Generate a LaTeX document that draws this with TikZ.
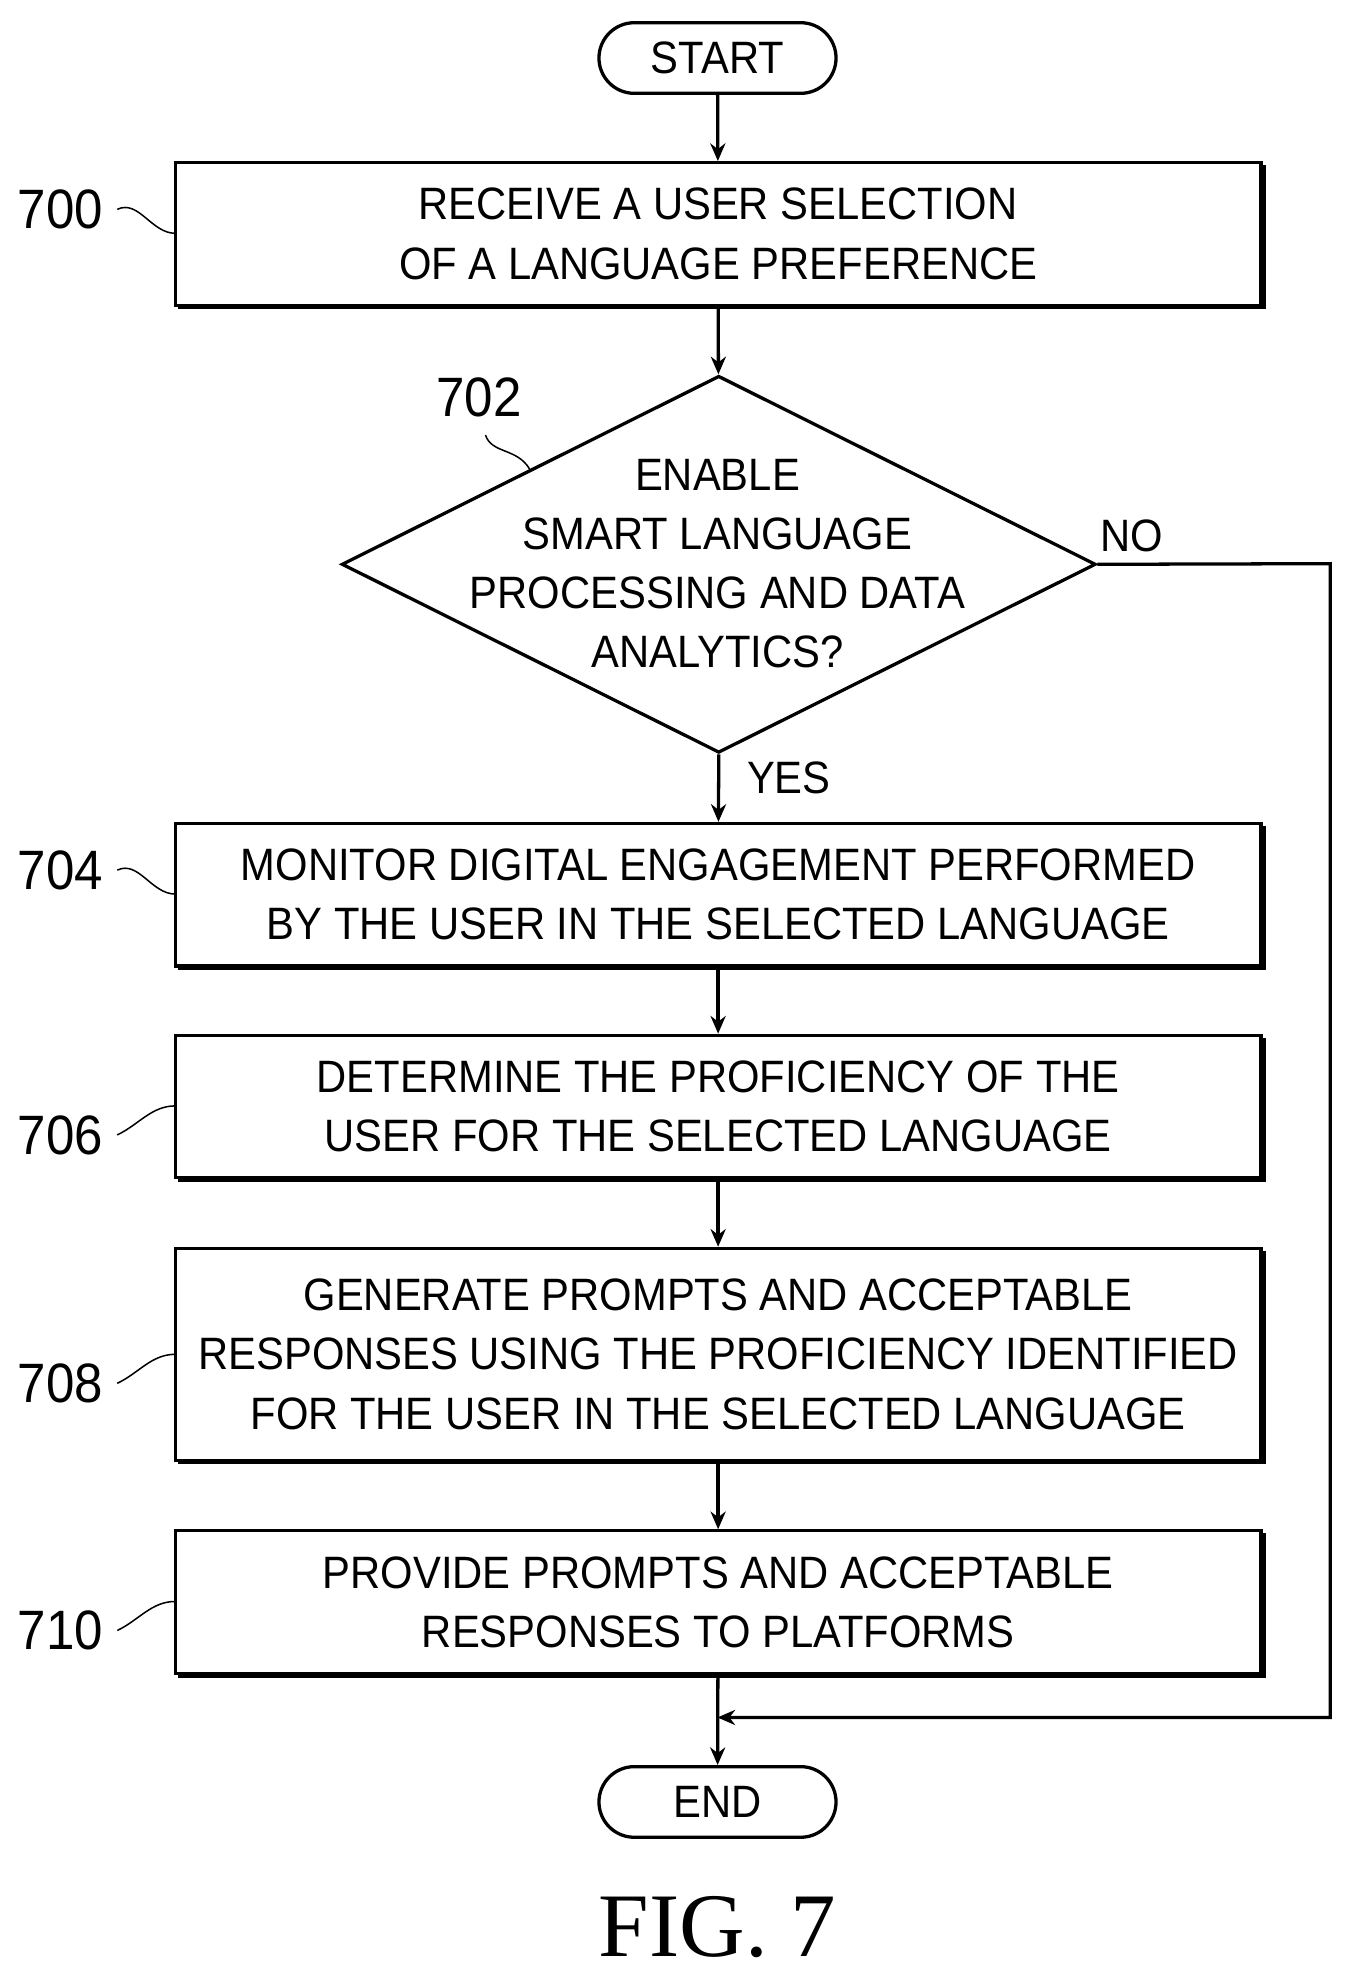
\documentclass[tikz,border=0pt]{standalone}
\usepackage{fontspec}
\setmainfont{Liberation Sans}
\newfontfamily\figfont{Liberation Serif}
\usetikzlibrary{arrows.meta,shapes.geometric,calc}
\begin{document}
\begin{tikzpicture}[x=0.5pt,y=-0.5pt,
  lw/.style={line width=1.3pt},
  txt/.style={font=\fontsize{18}{23.5}\selectfont, align=center, xscale=0.92},
  box/.style={draw, lw, minimum width=430.5pt, inner sep=0pt},
  arr/.style={lw,-{Stealth[length=7pt,width=6pt]}},
  lab/.style={font=\fontsize{22}{24}\selectfont, xscale=0.92},
  sq/.style={line width=0.6pt}]
\useasboundingbox (0,0) rectangle (1075,1571);
% shadows
\foreach \a/\b in {129/242,653/766,821/934,990/1158,1214/1327}
  \draw[line width=1.3pt] (141.5,\b+2) -- (1002.5,\b+2) -- (1002.5,\a+2);
% terminals
\node[draw,lw,rounded corners=14pt,minimum width=94pt,minimum height=28pt,inner sep=0pt] (start) at (569,46) {};
\node[txt] at (569,46) {START};
\node[draw,lw,rounded corners=14pt,minimum width=94pt,minimum height=28pt,inner sep=0pt] (end) at (569,1429) {};
\node[txt] at (569,1429) {END};
% boxes
\node[box,minimum height=56.5pt] (b700) at (569.5,185.5) {};
\node[txt] at (569.5,185.5) {RECEIVE A USER SELECTION\\OF A LANGUAGE PREFERENCE};
\node[draw,lw,diamond,minimum width=299pt,minimum height=149.5pt,inner sep=0pt,aspect=2] (d702) at (570,447.5) {};
\node[txt] at (569,447) {ENABLE\\SMART LANGUAGE\\PROCESSING AND DATA\\ANALYTICS?};
\node[box,minimum height=56.5pt] (b704) at (569.5,709.5) {};
\node[txt] at (569.5,709.5) {MONITOR DIGITAL ENGAGEMENT PERFORMED\\BY THE USER IN THE SELECTED LANGUAGE};
\node[box,minimum height=56.5pt] (b706) at (569.5,877.5) {};
\node[txt] at (569.5,877.5) {DETERMINE THE PROFICIENCY OF THE\\USER FOR THE SELECTED LANGUAGE};
\node[box,minimum height=84pt] (b708) at (569.5,1074) {};
\node[txt] at (569.5,1074) {GENERATE PROMPTS AND ACCEPTABLE\\RESPONSES USING THE PROFICIENCY IDENTIFIED\\FOR THE USER IN THE SELECTED LANGUAGE};
\node[box,minimum height=56.5pt] (b710) at (569.5,1270.5) {};
\node[txt] at (569.5,1270.5) {PROVIDE PROMPTS AND ACCEPTABLE\\RESPONSES TO PLATFORMS};
% arrows
\draw[arr] (start) -- (b700);
\draw[arr] (b700) -- (d702);
\draw[arr] (d702.south) -- (b704);
\draw[arr] (b704) -- (b706);
\draw[arr] (b706) -- (b708);
\draw[arr] (b708) -- (b710);
\draw[arr] (b710) -- (end);
\coordinate (c1) at (1055,447);
\coordinate (c2) at (1055,1362);
\coordinate (c3) at (569,1362);
\draw[arr] (d702.east) -- (c1) -- (c2) -- (c3);
\node[txt,anchor=west] at (586,617) {YES};
\node[txt,anchor=west] at (866,425) {NO};
% labels
\node[lab] (l700) at (48,166) {700};
\node[lab] (l702) at (380,315) {702};
\node[lab] (l704) at (48,690) {704};
\node[lab] (l706) at (48,900) {706};
\node[lab] (l708) at (48,1097) {708};
\node[lab] (l710) at (48,1293) {710};
\foreach \y/\t in {166/185,690/709,900/877,1097/1074,1293/1270}{
  \draw[sq] (93,\y) .. controls (110,\y-8) and (120,\t) .. (139,\t);}
\draw[sq] (385,345) .. controls (390,360) and (410,355) .. (420,372);
\node[font=\fontsize{36}{36}\figfont] (fig) at (569,1528) {FIG. 7};
\end{tikzpicture}
\end{document}
